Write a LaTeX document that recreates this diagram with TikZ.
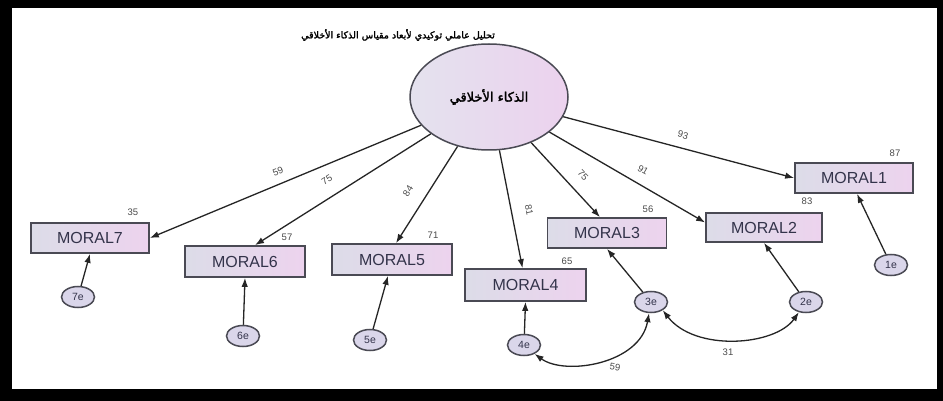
\documentclass[tikz,border=0pt]{standalone}
\usepackage{fontspec}
\setmainfont{Liberation Sans}
\newfontfamily\arabicbf[Script=Arabic,FakeBold=2]{DejaVu Sans}
\TeXXeTstate=1
\usetikzlibrary{shapes.geometric,arrows.meta,calc}
\definecolor{boxL}{HTML}{DCDCE8}
\definecolor{boxR}{HTML}{EDD3EE}
\definecolor{ellL}{HTML}{E4E2EE}
\definecolor{ellR}{HTML}{ECD2EE}
\definecolor{errfill}{HTML}{DAD6EA}
\definecolor{bordc}{HTML}{4A4A54}
\definecolor{arrowc}{HTML}{252525}
\definecolor{numc}{HTML}{4A4A4A}
\definecolor{boxtext}{HTML}{33334A}
\begin{document}
\begin{tikzpicture}[x=1pt,y=-1pt,
  mbox/.style={draw=bordc, line width=1.7pt, left color=boxL, right color=boxR,
    minimum width=118pt, minimum height=30pt, inner sep=0pt,
    font=\fontsize{16}{16}\selectfont, text=boxtext},
  latent/.style={ellipse, draw=bordc, line width=1.5pt, left color=ellL, right color=ellR,
    minimum width=158pt, minimum height=106pt, inner sep=0pt},
  errc/.style={ellipse, draw=bordc, line width=1.5pt, fill=errfill,
    minimum width=33pt, minimum height=21pt, inner sep=0pt,
    font=\fontsize{10.5}{10.5}\selectfont, text=boxtext},
  arr/.style={-{Latex[length=9pt,width=6.5pt]}, line width=1.3pt, draw=arrowc},
  cov/.style={{Latex[length=9pt,width=6.5pt]}-{Latex[length=9pt,width=6.5pt]}, line width=1.3pt, draw=arrowc},
  num/.style={font=\fontsize{9.5}{9.5}\selectfont, text=numc, inner sep=0pt}
]
\useasboundingbox (0,0) rectangle (943,401);
\fill[black] (0,0) rectangle (943,401);
\fill[white] (12,8) rectangle (937,389);

% title
\node (title) at (398,35) {\arabicbf\fontsize{9.5}{10}\selectfont\beginR تحليل عاملي توكيدي لأبعاد مقياس الذكاء الأخلاقي\endR};

% latent
\node[latent] (L) at (489,97) {\arabicbf\fontsize{13}{13}\selectfont\beginR الذكاء الأخلاقي\endR};

% observed
\node[mbox] (m7) at (90,238) {MORAL7};
\node[mbox, minimum width=120pt, minimum height=31pt] (m6) at (245,261.5) {MORAL6};
\node[mbox, minimum width=120pt, minimum height=31pt] (m5) at (392,259.5) {MORAL5};
\node[mbox, minimum width=121pt, minimum height=32pt] (m4) at (525.5,285) {MORAL4};
\node[mbox, minimum width=119pt] (m3) at (607,233) {MORAL3};
\node[mbox, minimum width=116pt, minimum height=29pt] (m2) at (764,227.5) {MORAL2};
\node[mbox] (m1) at (854,178) {MORAL1};

% R2 values
\node[num] (r7) at (133,212) {35};
\node[num] (r6) at (287,237) {57};
\node[num] (r5) at (433,235) {71};
\node[num] (r4) at (567,261) {65};
\node[num] (r3) at (648,209) {56};
\node[num] (r2) at (807,201) {83};
\node[num] (r1) at (895,153) {87};

% loadings arrows
\draw[arr] (L) -- (m7.east);
\draw[arr] (L) -- ($(m6.north)+(10,0)$);
\draw[arr] (L) -- ($(m5.north)+(4,0)$);
\draw[arr] (L) -- ($(m4.north)+(-3,0)$);
\draw[arr] (L) -- ($(m3.north)+(-7,0)$);
\draw[arr] (L) -- ($(m2.west)+(0,-5)$);
\draw[arr] (L) -- (m1.west);

% loading labels
\node[num, rotate=22] (l7) at (278,171) {59};
\node[num, rotate=32] (l6) at (327,180) {75};
\node[num, rotate=58] (l5) at (408,191) {84};
\node[num, rotate=-79] (l4) at (529,210) {81};
\node[num, rotate=-47] (l3) at (583,175) {75};
\node[num, rotate=-30] (l2) at (643,170) {91};
\node[num, rotate=-15] (l1) at (683,135) {93};

% errors
\node[errc] (e7) at (78,297) {7e};
\node[errc] (e6) at (243,336) {6e};
\node[errc] (e5) at (370,340) {5e};
\node[errc] (e4) at (524,345) {4e};
\node[errc] (e3) at (651,302) {3e};
\node[errc] (e2) at (806,302) {2e};
\node[errc] (e1) at (891,265) {1e};

\draw[arr] (e7) -- (m7.south);
\draw[arr] (e6) -- (m6.south);
\draw[arr] (e5) -- ($(m5.south)+(-4,0)$);
\draw[arr] (e4) -- (m4.south);
\draw[arr] (e3) -- (m3.south);
\draw[arr] (e2) -- (m2.south);
\draw[arr] (e1) -- ($(m1.south)+(3,0)$);

% covariances
\draw[cov] (e4.-40) .. controls (565,376) and (640,364) .. (e3.-100);
\draw[cov] (e3.-35) .. controls (695,352) and (775,346) .. (e2.-125);
\node[num, rotate=-8] (c43) at (615,367) {59};
\node[num] (c32) at (728,352) {31};
\end{tikzpicture}
\end{document}
